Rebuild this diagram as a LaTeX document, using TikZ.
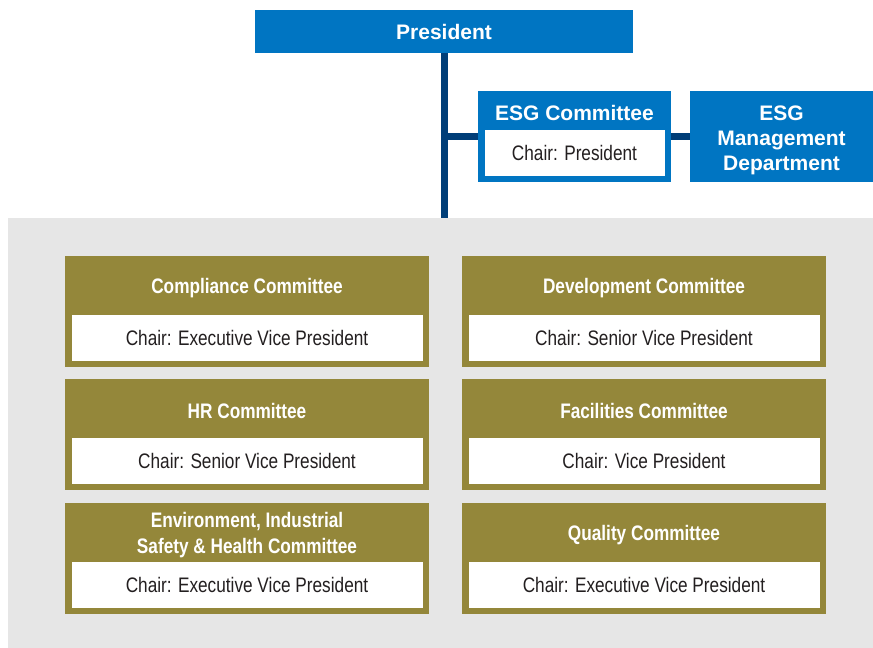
\documentclass[tikz,border=0pt]{standalone}
\usepackage{fontspec}
\setmainfont{Liberation Sans}
\newfontfamily\narrowfont[FakeStretch=0.82]{Liberation Sans}
\usetikzlibrary{positioning}
\definecolor{esgblue}{RGB}{0,117,194}
\definecolor{linenavy}{RGB}{0,62,120}
\definecolor{cmtolive}{RGB}{148,135,58}
\definecolor{panelgray}{RGB}{230,230,230}
\definecolor{chairtext}{RGB}{35,31,32}
\tikzstyle{topbox} = [fill=esgblue, text=white, inner sep=0pt, outer sep=0pt, align=center, font=\fontsize{21}{25}\selectfont\bfseries]
\tikzstyle{toptext} = [text=white, inner sep=0pt, align=center, font=\fontsize{21}{25}\selectfont\bfseries]
\tikzstyle{cmtbox} = [fill=cmtolive, inner sep=0pt, outer sep=0pt, minimum width=364pt, minimum height=111pt]
\tikzstyle{chairbox} = [fill=white, text=chairtext, inner sep=0pt, outer sep=0pt, minimum width=351pt, minimum height=46pt, font=\narrowfont\fontsize{21}{25}\selectfont]
\tikzstyle{cmttitle} = [text=white, inner sep=0pt, align=center, font=\narrowfont\fontsize{21}{26}\selectfont\bfseries]
\tikzstyle{link} = [draw=linenavy, line width=7pt]

\begin{document}
\begin{tikzpicture}[x=1pt, y=-1pt]
    \useasboundingbox (0,0) rectangle (873,648);
    \fill [panelgray] (8,218) rectangle (873,648);
 % nodes
    \node [topbox, minimum width=378pt, minimum height=43pt, name=president] at (444,31.5) {President};
    \node [topbox, minimum width=193pt, minimum height=91pt, name=esg] at (574.5,136.5) {};
    \node [toptext, name=esgtitle] at ([yshift=-21.5pt]esg.north) {ESG Committee};
    \node [chairbox, minimum width=180pt, above=6pt of esg.south, name=esgchair] {\raisebox{-2pt}{Chair: President}};
    \node [topbox, minimum width=183pt, minimum height=91pt, right=19pt of esg, name=esgdept] {};
    \node [toptext, name=esgdepttext] at ([yshift=-3.5pt]esgdept.center) {ESG\\Management\\Department};
    % committees
    \node [cmtbox, name=compliance] at (247,311.5) {};
    \node [cmtbox, right=33pt of compliance, name=development] {};
    \node [cmtbox, below=12pt of compliance, name=hr] {};
    \node [cmtbox, below=12pt of development, name=facilities] {};
    \node [cmtbox, below=13pt of hr, name=environment] {};
    \node [cmtbox, below=13pt of facilities, name=quality] {};
    \node [cmttitle, name=compliancetitle] at ([yshift=-32pt]compliance.north) {Compliance Committee};
    \node [chairbox, above=6pt of compliance.south, name=compliancechair] {Chair: Executive Vice President};
    \node [cmttitle, name=developmenttitle] at ([yshift=-32pt]development.north) {Development Committee};
    \node [chairbox, above=6pt of development.south, name=developmentchair] {Chair: Senior Vice President};
    \node [cmttitle, name=hrtitle] at ([yshift=-32pt]hr.north) {HR Committee};
    \node [chairbox, above=6pt of hr.south, name=hrchair] {Chair: Senior Vice President};
    \node [cmttitle, name=facilitiestitle] at ([yshift=-32pt]facilities.north) {Facilities Committee};
    \node [chairbox, above=6pt of facilities.south, name=facilitieschair] {Chair: Vice President};
    \node [cmttitle, name=environmenttitle] at ([yshift=-32pt]environment.north) {Environment, Industrial\\Safety \& Health Committee};
    \node [chairbox, above=6pt of environment.south, name=environmentchair] {Chair: Executive Vice President};
    \node [cmttitle, name=qualitytitle] at ([yshift=-32pt]quality.north) {Quality Committee};
    \node [chairbox, above=6pt of quality.south, name=qualitychair] {Chair: Executive Vice President};
    % edges
    \coordinate (trunkend) at (president.south |- 0,218);
    \coordinate (branch) at (president.south |- esg.west);
    \draw [link] (president.south) -- (trunkend);
    \draw [link] (branch) -- (esg.west);
    \draw [link] (esg.east) -- (esgdept.west);
\end{tikzpicture}
\end{document}
